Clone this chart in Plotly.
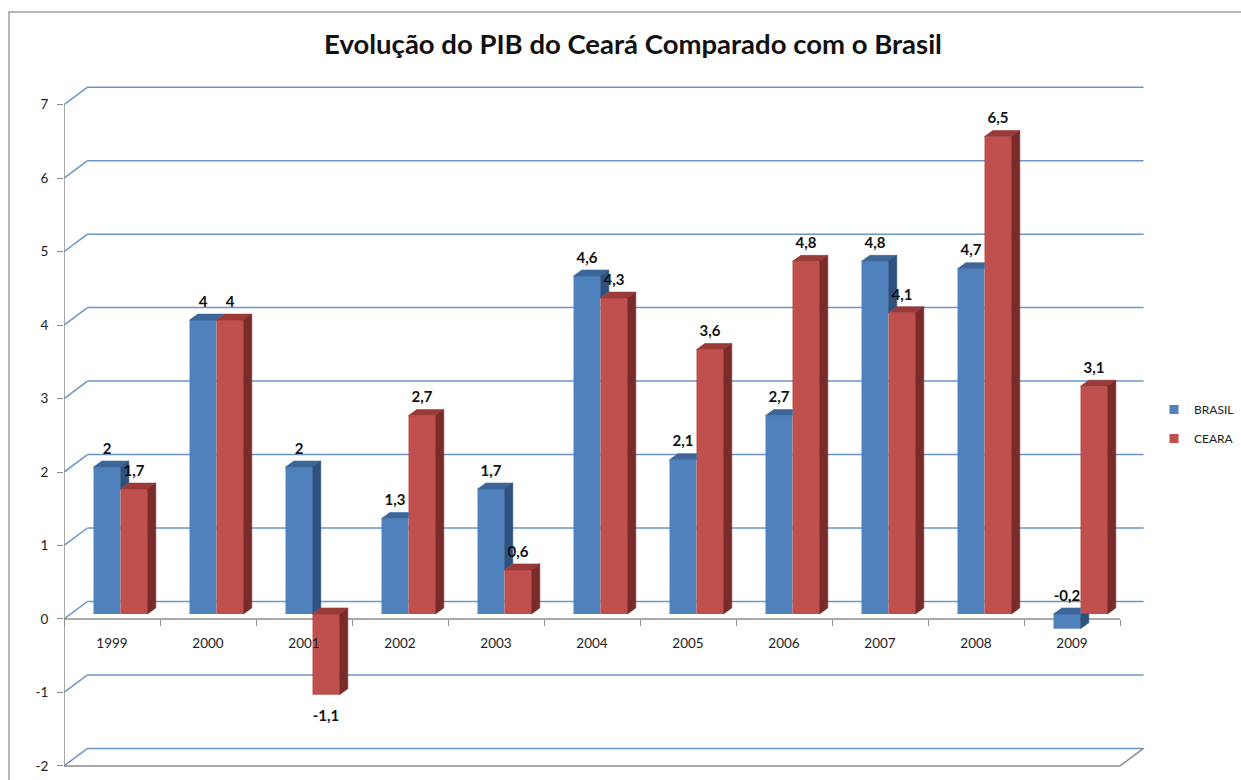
import plotly.graph_objects as go

# ---------------- data ----------------
years = ['1999', '2000', '2001', '2002', '2003', '2004', '2005', '2006', '2007', '2008', '2009']
brasil = [2, 4, 2, 1.3, 1.7, 4.6, 2.1, 2.7, 4.8, 4.7, -0.2]
ceara = [1.7, 4, -1.1, 2.7, 0.6, 4.3, 3.6, 4.8, 4.1, 6.5, 3.1]
y_ticks = [-2, -1, 0, 1, 2, 3, 4, 5, 6, 7]
title_text = 'Evolução do PIB do Ceará Comparado com o Brasil'
series_names = ['BRASIL', 'CEARA']

# ---------------- geometry / style ----------------
W, H = 1241, 780
PL, PR, PT, PB = 64, 1150, 80, 768      # plot area in px
PX_X = 96.0                              # px per category
PX_Y = 73.47                             # px per unit
Y7_PX = 104.7
X_LO = -0.5
X_HI = X_LO + (PR - PL) / PX_X
Y_HI = 7 + (Y7_PX - PT) / PX_Y
Y_LO = Y_HI - (PB - PT) / PX_Y
N = len(years)
X_END = X_LO + N

WALL_DX, WALL_DY = 23.5 / PX_X, 17.5 / PX_Y   # back-wall depth offset
SX, SY = 8.5 / PX_X, 5.0 / PX_Y               # bar plane offset
BDX, BDY = 8.3 / PX_X, 6.0 / PX_Y             # bar depth
BW = 27.0 / PX_X                              # bar width

BLUE, BLUE_TOP, BLUE_SIDE = '#4F81BD', '#3D6698', '#2E5180'
RED, RED_TOP, RED_SIDE = '#C0504D', '#9A3B39', '#7A2C2A'
GRID = '#6A94CA'
AXIS = '#8C8C8C'
FONT = 'Lato, Calibri, sans-serif'


def clip(poly, axis, t, keep_ge):
    out = []
    n = len(poly)
    for k in range(n):
        cur, prev = poly[k], poly[k - 1]
        cin = cur[axis] >= t if keep_ge else cur[axis] <= t
        pin = prev[axis] >= t if keep_ge else prev[axis] <= t
        if cin:
            if not pin:
                s = (t - prev[axis]) / (cur[axis] - prev[axis])
                out.append((prev[0] + s * (cur[0] - prev[0]), prev[1] + s * (cur[1] - prev[1])))
            out.append(cur)
        elif pin:
            s = (t - prev[axis]) / (cur[axis] - prev[axis])
            out.append((prev[0] + s * (cur[0] - prev[0]), prev[1] + s * (cur[1] - prev[1])))
    return out


def area(p):
    return abs(sum(p[k - 1][0] * p[k][1] - p[k][0] * p[k - 1][1] for k in range(len(p)))) / 2


def add_polys(store, polys):
    for p in polys:
        if len(p) >= 3 and area(p) > 1e-7:
            for q in p:
                store[0].append(q[0])
                store[1].append(q[1])
            store[0].append(p[0][0])
            store[1].append(p[0][1])
            store[0].append(None)
            store[1].append(None)


def top_face(xl, xr, h):
    return [(xl, h), (xr, h), (xr + BDX, h + BDY), (xl + BDX, h + BDY)]


def side_face(xr, lo, hi):
    return [(xr, lo), (xr, hi), (xr + BDX, hi + BDY), (xr + BDX, lo + BDY)]


b_top, b_side, r_top, r_side = ([], []), ([], []), ([], []), ([], [])
for i in range(N):
    bl, br = i + SX - BW, i + SX
    rl, rr = br, br + BW
    blo, bhi = min(SY, SY + brasil[i]), max(SY, SY + brasil[i])
    rlo, rhi = min(SY, SY + ceara[i]), max(SY, SY + ceara[i])
    # blue top face, right part is hidden where the red front face is
    T = top_face(bl, br, bhi)
    Tl = clip(T, 0, br, False)
    Tr = clip(T, 0, br, True)
    add_polys(b_top, [Tl, clip(Tr, 1, rhi, True), clip(Tr, 1, rlo, False)])
    # blue side face
    if bhi > rhi:
        add_polys(b_side, [side_face(br, max(blo, rhi), bhi)])
    add_polys(b_side, [clip(side_face(br, blo, bhi), 1, rlo, False)])
    # red faces
    add_polys(r_top, [top_face(rl, rr, rhi)])
    add_polys(r_side, [side_face(rr, rlo, rhi)])

fig = go.Figure()

# front faces as real bars
fig.add_trace(go.Bar(x=[i + SX for i in range(N)], y=brasil, base=SY, width=BW, offset=-BW,
                     marker=dict(color=BLUE, line=dict(width=0)), showlegend=False,
                     name=series_names[0], hoverinfo='skip'))
fig.add_trace(go.Bar(x=[i + SX for i in range(N)], y=ceara, base=SY, width=BW, offset=0,
                     marker=dict(color=RED, line=dict(width=0)), showlegend=False,
                     name=series_names[1], hoverinfo='skip'))

for store, col in [(b_top, BLUE_TOP), (b_side, BLUE_SIDE), (r_top, RED_TOP), (r_side, RED_SIDE)]:
    fig.add_trace(go.Scatter(x=store[0], y=store[1], mode='lines', fill='toself', fillcolor=col,
                             line=dict(width=0.6, color=col), showlegend=False, hoverinfo='skip'))


def fmt(v):
    return f'{v:g}'.replace('.', ',')


LBL_UP = 17.0 / PX_Y
LBL_DN = 22.0 / PX_Y
for vals, sign in [(brasil, -1), (ceara, 0)]:
    xs, ys, ts = [], [], []
    for i, v in enumerate(vals):
        xc = i + SX - BW / 2 if sign == -1 else i + SX + BW / 2
        lo, hi = min(SY, SY + v), max(SY, SY + v)
        if v < -0.5:
            ys.append(lo - LBL_DN)
        else:
            ys.append(hi + LBL_UP)
        xs.append(xc)
        ts.append(fmt(v))
    fig.add_trace(go.Scatter(x=xs, y=ys, text=ts, mode='text', textposition='middle center',
                             textfont=dict(family=FONT, size=15, color='#111', weight=700),
                             showlegend=False, hoverinfo='skip', cliponaxis=False))

# legend entries
for nm, col in [(series_names[0], BLUE), (series_names[1], RED)]:
    fig.add_trace(go.Scatter(x=[None], y=[None], mode='markers', name=nm, legendgroup=nm,
                             marker=dict(symbol='square', size=9, color=col)))

shapes = []
for v in y_ticks:
    shapes.append(dict(type='line', xref='x', yref='y', layer='below',
                       x0=X_LO + WALL_DX, x1=X_END + WALL_DX, y0=v + WALL_DY, y1=v + WALL_DY,
                       line=dict(color=GRID, width=1.5)))
    shapes.append(dict(type='line', xref='x', yref='y', layer='below',
                       x0=X_LO, x1=X_LO + WALL_DX, y0=v, y1=v + WALL_DY,
                       line=dict(color=GRID, width=1.5)))
# axes lines
shapes.append(dict(type='line', xref='x', yref='y', layer='below', x0=X_LO, x1=X_LO,
                   y0=y_ticks[0], y1=y_ticks[-1], line=dict(color=AXIS, width=1.5)))
shapes.append(dict(type='line', xref='x', yref='y', layer='below', x0=X_LO, x1=X_END,
                   y0=0, y1=0, line=dict(color=AXIS, width=1.5)))
shapes.append(dict(type='line', xref='x', yref='y', layer='below', x0=X_LO, x1=X_END,
                   y0=y_ticks[0], y1=y_ticks[0], line=dict(color=AXIS, width=1.5)))
shapes.append(dict(type='line', xref='x', yref='y', layer='below', x0=X_END, x1=X_END + WALL_DX,
                   y0=y_ticks[0], y1=y_ticks[0] + WALL_DY, line=dict(color=AXIS, width=1.5)))
# chart border
shapes.append(dict(type='rect', xref='paper', yref='paper', layer='below',
                   x0=(9 - PL) / (PR - PL), x1=(W + 20 - PL) / (PR - PL),
                   y0=(PB - (H + 20)) / (PB - PT), y1=(PB - 12) / (PB - PT),
                   line=dict(color='#A0A0A0', width=1.5)))

fig.update_layout(
    width=W, height=H,
    margin=dict(l=PL, r=W - PR, t=PT, b=H - PB, autoexpand=False),
    paper_bgcolor='white', plot_bgcolor='rgba(0,0,0,0)',
    font=dict(family=FONT, size=12, color='#222'),
    barmode='overlay',
    title=dict(text=title_text, xref='container', yref='container', x=633 / W, xanchor='center',
               y=1 - 44 / H, yanchor='middle', font=dict(family=FONT, size=27.5, color='#111', weight=700)),
    shapes=shapes,
    showlegend=True,
    legend=dict(xref='container', yref='container', x=1154 / W, xanchor='left',
                y=1 - 395 / H, yanchor='top',
                font=dict(family=FONT, size=12, color='#222'), tracegroupgap=10,
                bgcolor='rgba(0,0,0,0)'),
    xaxis=dict(range=[X_LO, X_HI], anchor='free', position=(0 - Y_LO) / (Y_HI - Y_LO),
               automargin=False,
               tickvals=list(range(N)), ticktext=years, ticks='', showgrid=False, zeroline=False,
               showline=False, ticklabelstandoff=15, tickfont=dict(size=13.5, color='#222'),
               minor=dict(tickvals=[k - 0.5 for k in range(N + 1)], ticks='outside', ticklen=6,
                          tickcolor=AXIS, tickwidth=1.2, showgrid=False)),
    yaxis=dict(range=[Y_LO, Y_HI], tickvals=y_ticks, ticktext=[str(v) for v in y_ticks],
               automargin=False,
               ticks='outside', ticklen=6, tickcolor=AXIS, tickwidth=1.2, showgrid=False,
               zeroline=False, showline=False, ticklabelstandoff=6,
               tickfont=dict(size=13.5, color='#222')),
)

fig.write_html('out.html', config={'displayModeBar': False},
               post_script="document.body.style.margin='0';document.body.style.overflow='hidden';")
